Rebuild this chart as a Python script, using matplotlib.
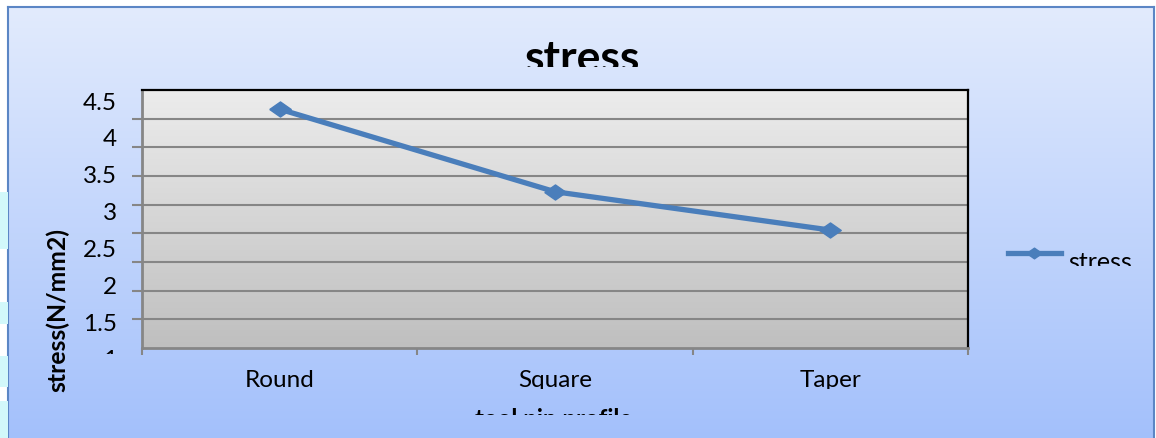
import numpy as np
import matplotlib
matplotlib.use("Agg")
import matplotlib.pyplot as plt
from matplotlib.colors import LinearSegmentedColormap
from matplotlib.transforms import Bbox, TransformedBbox, ScaledTranslation
from matplotlib.lines import Line2D
from matplotlib.patches import Rectangle

profiles = ["Round", "Square", "Taper"]
stress = [4.24, 3.12, 2.60]
series_name = "stress"
y_labels = [1, 1.5, 2, 2.5, 3, 3.5, 4, 4.5]

plt.rcParams['font.family'] = ['Lato', 'DejaVu Sans']

W, H = 1156, 439
fig = plt.figure(figsize=(W / 100, H / 100), dpi=100)
fig.patch.set_facecolor('white')


def clip_below(t, ypx):
    # hide everything of a text below pixel row ypx (from top)
    box = TransformedBbox(Bbox([[0, 1 - ypx / H], [1, 1]]), fig.transFigure)
    t.set_clip_box(box)
    t.set_clip_on(True)


# left page strip with cyan bits
for y0, y1 in [(193, 250), (303, 325), (357, 388), (402, 439)]:
    fig.add_artist(Rectangle((0, 1 - y1 / H), 8 / W, (y1 - y0) / H,
                             transform=fig.transFigure, color='#d2f8fa', lw=0))

# chart area background
bg = fig.add_axes([8 / W, -0.05, (1154 - 8) / W, 1 - 8 / H + 0.05], zorder=-10)
grad = np.linspace(0, 1, 256)[:, None]
bg.imshow(grad, aspect='auto', extent=[0, 1, 0, 1],
          cmap=LinearSegmentedColormap.from_list('bg', ['#e2ebfd', '#a0befb']))
bg.set_xticks([])
bg.set_yticks([])
for s in bg.spines.values():
    s.set_color('#5b86c5')
    s.set_linewidth(1.5)

# plot area
ax = fig.add_axes([142 / W, 1 - 349 / H, (968 - 142) / W, (349 - 91) / H])
x = np.arange(len(profiles))
ax.imshow(grad, aspect='auto', extent=[-0.5, 2.5, 1, 4.5], zorder=0,
          cmap=LinearSegmentedColormap.from_list('pa', ['#ececec', '#bfbfbf']))
diamond = [(-1, 0), (0, 0.7), (1, 0), (0, -0.7), (-1, 0)]
ax.plot(x, stress, color='#4a7ebb', lw=3.8, marker=diamond, markersize=15.5, zorder=3)

ax.set_xlim(-0.5, 2.5)
ax.set_ylim(1, 4.5)
ax.set_axisbelow(True)

ax.set_xticks(x, profiles)
ax.set_xticks(np.arange(len(profiles) + 1) - 0.5, minor=True)
ax.tick_params(axis='x', which='major', length=0, pad=15, labelsize=17.5)
ax.tick_params(axis='x', which='minor', length=5, width=1.5, color='#868686')

ax.set_yticks(y_labels, [f"{v:g}" for v in y_labels])
ax.set_yticks(np.linspace(1, 4.5, 10), minor=True)
ax.tick_params(axis='y', which='major', length=0, pad=18, labelsize=17.5)
ax.tick_params(axis='y', which='minor', length=7, width=1.5, color='#868686')
ax.yaxis.grid(True, which='minor', color='#868686', lw=1.5)

ax.spines['top'].set_color('black')
ax.spines['right'].set_color('black')
ax.spines['top'].set_linewidth(1.6)
ax.spines['right'].set_linewidth(1.6)
ax.spines['left'].set_color('#868686')
ax.spines['bottom'].set_color('#868686')
ax.spines['left'].set_linewidth(2)
ax.spines['bottom'].set_linewidth(2)

shift = ScaledTranslation(0, -0.10, fig.dpi_scale_trans)
for lab in ax.get_yticklabels():
    lab.set_transform(lab.get_transform() + shift)
    clip_below(lab, 355)
for lab in ax.get_xticklabels():
    clip_below(lab, 390)

# titles
t = fig.text(583 / W, 1 - 72 / H, 'stress', fontsize=32, fontweight='bold',
             ha='center', va='baseline')
clip_below(t, 68)
fig.text(58 / W, 1 - 310 / H, 'stress(N/mm2)', fontsize=17.8, fontweight='bold',
         rotation=90, ha='center', va='center')
t = fig.text(554 / W, 1 - 408 / H, 'tool pin profile', fontsize=17.3,
             fontweight='bold', ha='center', va='top')
clip_below(t, 416)

# legend
ly = 1 - 254 / H
fig.add_artist(Line2D([1008 / W, 1034 / W, 1061 / W], [ly, ly, ly], transform=fig.transFigure,
                      color='#4a7ebb', lw=3.8, marker=diamond, markersize=11,
                      markevery=[1]))
t = fig.text(1068 / W, 1 - 251 / H, series_name, fontsize=18, ha='left', va='top')
clip_below(t, 267)

fig.savefig('out.png', dpi=100)
